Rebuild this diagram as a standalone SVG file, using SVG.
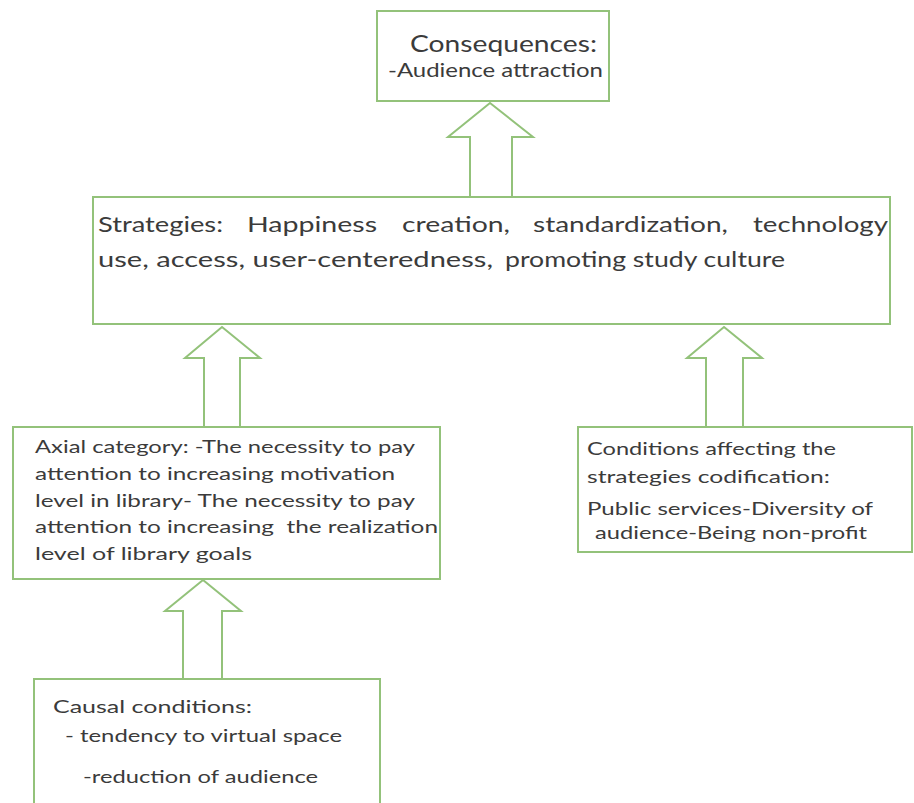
<svg xmlns="http://www.w3.org/2000/svg" width="914" height="803" viewBox="0 0 914 803">
<style>
.box{fill:#ffffff;stroke:#93c27a;stroke-width:2}
.arr{fill:#ffffff;stroke:#93c27a;stroke-width:2;stroke-linejoin:miter}
text{font-family:Lato,"Open Sans","Liberation Sans",sans-serif;fill:#3b3b3b}
.t17{font-size:17px}
.t21{font-size:21px}
</style>
<rect width="914" height="803" fill="#ffffff"/>
<g id="connectors">
<polygon class="arr" points="490,103 533,137 512,137 512,198 470,198 470,137 448,137"/>
<polygon class="arr" points="222,327 260,358 240,358 240,427 204,427 204,358 185,358"/>
<polygon class="arr" points="724,327 762,358 743,358 743,427 706,427 706,358 687,358"/>
<polygon class="arr" points="203,580 241,611 222,611 222,679 183,679 183,611 165,611"/>
</g>
<g id="consequences">
<rect class="box" x="377" y="11" width="232" height="90"/>
<text x="410" y="52" style="font-size:23px" textLength="187" lengthAdjust="spacingAndGlyphs">Consequences:</text>
<text x="388" y="77" style="font-size:19px" textLength="215" lengthAdjust="spacingAndGlyphs">-Audience attraction</text>
</g>
<g id="strategies">
<rect class="box" x="93" y="197" width="797" height="127"/>
<text class="t21" y="232" lengthAdjust="spacingAndGlyphs"><tspan x="98" textLength="125" lengthAdjust="spacingAndGlyphs">Strategies:</tspan><tspan x="247" textLength="130" lengthAdjust="spacingAndGlyphs">Happiness</tspan><tspan x="402" textLength="108" lengthAdjust="spacingAndGlyphs">creation,</tspan><tspan x="533" textLength="195" lengthAdjust="spacingAndGlyphs">standardization,</tspan><tspan x="753" textLength="135" lengthAdjust="spacingAndGlyphs">technology</tspan></text>
<text class="t21" y="267"><tspan x="98" textLength="395" lengthAdjust="spacingAndGlyphs">use, access, user-centeredness,</tspan><tspan x="505" textLength="280" lengthAdjust="spacingAndGlyphs">promoting study culture</tspan></text>
</g>
<g id="axial">
<rect class="box" x="13" y="427" width="427" height="152"/>
<text class="t17" x="35" y="453" textLength="380" lengthAdjust="spacingAndGlyphs">Axial category: -The necessity to pay</text>
<text class="t17" x="35" y="480" textLength="360" lengthAdjust="spacingAndGlyphs">attention to increasing motivation</text>
<text class="t17" x="35" y="507" textLength="380" lengthAdjust="spacingAndGlyphs">level in library- The necessity to pay</text>
<text class="t17" x="35" y="533" textLength="403" lengthAdjust="spacingAndGlyphs" xml:space="preserve">attention to increasing  the realization</text>
<text class="t17" x="35" y="560" textLength="217" lengthAdjust="spacingAndGlyphs">level of library goals</text>
</g>
<g id="conditions">
<rect class="box" x="578" y="427" width="334" height="125"/>
<text class="t17" x="587" y="455" textLength="249" lengthAdjust="spacingAndGlyphs">Conditions affecting the</text>
<text class="t17" x="587" y="483" textLength="243" lengthAdjust="spacingAndGlyphs">strategies codification:</text>
<text class="t17" x="587" y="515" textLength="286" lengthAdjust="spacingAndGlyphs">Public services-Diversity of</text>
<text class="t17" x="595" y="539" textLength="272" lengthAdjust="spacingAndGlyphs">audience-Being non-profit</text>
</g>
<g id="causal">
<rect class="box" x="34" y="679" width="346" height="140"/>
<text class="t17" x="53" y="713" textLength="199" lengthAdjust="spacingAndGlyphs">Causal conditions:</text>
<text class="t17" x="65" y="742" textLength="277" lengthAdjust="spacingAndGlyphs">- tendency to virtual space</text>
<text class="t17" x="83" y="783" textLength="235" lengthAdjust="spacingAndGlyphs">-reduction of audience</text>
</g>
</svg>
